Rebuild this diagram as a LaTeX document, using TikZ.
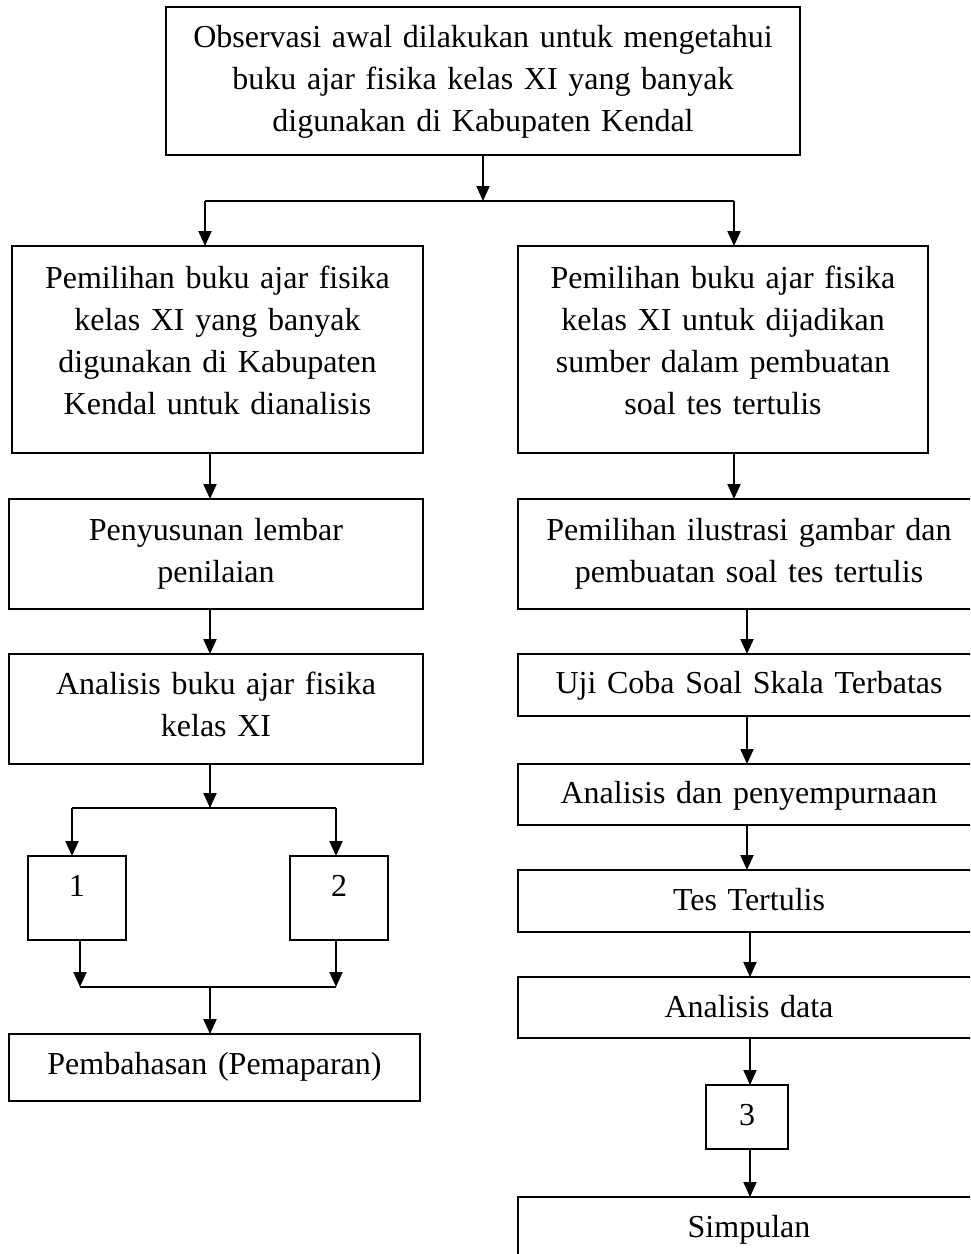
\documentclass[tikz,border=0pt]{standalone}
\usepackage{fontspec}
\setmainfont{Liberation Serif}
\usetikzlibrary{arrows.meta}
\begin{document}
\begin{tikzpicture}[x=0.5pt,y=-0.5pt,
  box/.style={draw, line width=1pt, inner sep=0pt, outer sep=0pt, align=center, anchor=north west,
    font=\fontsize{16pt}{21pt}\selectfont},
  ln/.style={line width=1pt},
  arr/.style={line width=1pt, -{Triangle[length=7.5pt,width=6.5pt]}}]
\useasboundingbox (0,0) rectangle (970,1254);
\fill[white] (0,0) rectangle (970,1254);
\clip (0,0) rectangle (970,1254);
% top
\node[box, text width=317pt, text height=20pt, text depth=54pt] (top) at (166,7)
  {Observasi awal dilakukan untuk mengetahui\\buku ajar fisika kelas XI yang banyak\\digunakan di Kabupaten Kendal};
% left column
\node[box, text width=205.5pt, text height=21pt, text depth=82.5pt] (lA) at (12,246)
  {Pemilihan buku ajar fisika\\kelas XI yang banyak\\digunakan di Kabupaten\\Kendal untuk dianalisis};
\node[box, text width=207pt, text height=20.5pt, text depth=34.5pt] (lB) at (9,499)
  {Penyusunan lembar\\penilaian};
\node[box, text width=207pt, text height=20pt, text depth=35pt] (lC) at (9,654)
  {Analisis buku ajar fisika\\kelas XI};
\node[box, text width=49pt, text height=20pt, text depth=22pt] (b1) at (28,856) {1};
\node[box, text width=49pt, text height=20pt, text depth=22pt] (b2) at (290,856) {2};
\node[box, text width=205.5pt, text height=20pt, text depth=13.5pt] (pem) at (9,1034)
  {Pembahasan (Pemaparan)};
% right column
\node[box, text width=205pt, text height=21pt, text depth=82.5pt] (rA) at (518,246)
  {Pemilihan buku ajar fisika\\kelas XI untuk dijadikan\\sumber dalam pembuatan\\soal tes tertulis};
\node[box, text width=231pt, text height=20.5pt, text depth=34.5pt] (rB) at (518,499)
  {Pemilihan ilustrasi gambar dan\\pembuatan soal tes tertulis};
\node[box, text width=231pt, text height=19.5pt, text depth=11.5pt] (uji) at (518,654)
  {Uji Coba Soal Skala Terbatas};
\node[box, text width=231pt, text height=19.5pt, text depth=11pt] (adp) at (518,764)
  {Analisis dan penyempurnaan};
\node[box, text width=231pt, text height=20pt, text depth=11pt] (tes) at (518,870)
  {Tes Tertulis};
\node[box, text width=231pt, text height=20pt, text depth=10.5pt] (ad) at (518,977)
  {Analisis data};
\node[box, text width=41pt, text height=20pt, text depth=12pt] (b3) at (706,1085) {3};
\node[box, text width=231pt, text height=20pt, text depth=11.5pt] (simp) at (518,1197)
  {Simpulan};
% guide coordinates
\coordinate (cL) at (210,0);
\coordinate (cR1) at (734,0);
\coordinate (cR2) at (747,0);
\coordinate (cR3) at (750,0);
\coordinate (j1) at (483,201);
\coordinate (j1l) at (205,201);
\coordinate (j1r) at (734,201);
\coordinate (j2) at (210,808);
\coordinate (j2l) at (72,808);
\coordinate (j2r) at (336,808);
\coordinate (j3) at (210,987);
\coordinate (j3l) at (80,987);
\coordinate (j3r) at (336,987);
% connectors top
\draw[arr] (top.south) -- (j1);
\draw[ln] (j1l) -- (j1r);
\draw[arr] (j1l) -- (j1l |- lA.north);
\draw[arr] (j1r) -- (j1r |- rA.north);
% left
\draw[arr] (cL |- lA.south) -- (cL |- lB.north);
\draw[arr] (cL |- lB.south) -- (cL |- lC.north);
\draw[arr] (cL |- lC.south) -- (j2);
\draw[ln] (j2l) -- (j2r);
\draw[arr] (j2l) -- (j2l |- b1.north);
\draw[arr] (j2r) -- (j2r |- b2.north);
\draw[arr] (j3l |- b1.south) -- (j3l);
\draw[arr] (j3r |- b2.south) -- (j3r);
\draw[ln] (j3l) -- (j3r);
\draw[arr] (j3) -- (j3 |- pem.north);
% right
\draw[arr] (cR1 |- rA.south) -- (cR1 |- rB.north);
\draw[arr] (cR2 |- rB.south) -- (cR2 |- uji.north);
\draw[arr] (cR2 |- uji.south) -- (cR2 |- adp.north);
\draw[arr] (cR2 |- adp.south) -- (cR2 |- tes.north);
\draw[arr] (cR3 |- tes.south) -- (cR3 |- ad.north);
\draw[arr] (cR3 |- ad.south) -- (cR3 |- b3.north);
\draw[arr] (cR3 |- b3.south) -- (cR3 |- simp.north);
\end{tikzpicture}
\end{document}
